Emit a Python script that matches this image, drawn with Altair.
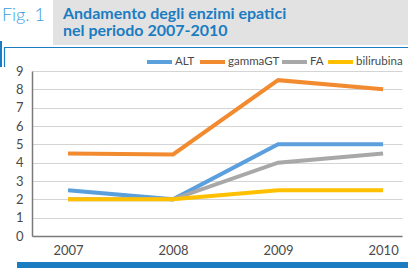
import altair as alt
import pandas as pd

# Series values per year
years = [2007, 2008, 2009, 2010]
series_names = ["ALT", "gammaGT", "FA", "bilirubina"]
alt_vals = [2.5, 2.0, 5.0, 5.0]
ggt_vals = [4.5, 4.45, 8.5, 8.0]
fa_vals = [2.0, 2.0, 4.0, 4.5]
bili_vals = [2.0, 2.0, 2.5, 2.5]
series_colors = ["#5b9fdc", "#f28a30", "#a8a8a8", "#ffc000"]
y_ticks = list(range(0, 10))

fig_label = "Fig. 1"
title_lines = ["Andamento degli enzimi epatici", "nel periodo 2007-2010"]

rows = []
for name, vals in zip(series_names, [alt_vals, ggt_vals, fa_vals, bili_vals]):
    for yr, v in zip(years, vals):
        rows.append({"anno": yr, "serie": name, "valore": v})
df = pd.DataFrame(rows)

# Plot area geometry (page pixels)
PL, PT, PW, PH = 32, 71, 370, 165
W, H = 408, 268
FONT = "Lato"
BLUE = "#1b7cc2"
TEXT = "#4a4a4a"


def px(x):
    return x - PL


def py(y):
    return y - PT


one = alt.Data(values=[{}])
color_scale = alt.Scale(domain=series_names, range=series_colors)

lines = alt.Chart(df).mark_line(strokeWidth=4, clip=False).encode(
    x=alt.X("anno:Q",
            scale=alt.Scale(domain=[2006.657, 2010.18], nice=False, zero=False),
            axis=alt.Axis(values=years, format="d", title=None, grid=False, ticks=False,
                          domainColor="#7a7a7a", domainWidth=1.5, labelPadding=8,
                          labelFontSize=13, labelColor=TEXT, labelFont=FONT)),
    y=alt.Y("valore:Q",
            scale=alt.Scale(domain=[0, 9], nice=False),
            axis=alt.Axis(values=y_ticks, title=None, ticks=False, grid=True,
                          gridColor="#d4d4d4", gridWidth=1, domainColor="#7a7a7a",
                          domainWidth=1.5, labelPadding=9, labelFontSize=13,
                          labelColor=TEXT, labelFont=FONT)),
    color=alt.Color("serie:N", scale=color_scale, legend=None),
)

# Horizontal key above the plot: swatch start for each series (page pixels)
key_x = [147, 200, 282, 328]
key_len = 25
key_y = 62
key_df = pd.DataFrame({
    "serie": series_names,
    "x0": [px(k) for k in key_x],
    "x1": [px(k + key_len) for k in key_x],
    "tx": [px(k + key_len + 3) for k in key_x],
})
key_base = alt.Chart(key_df)
key_lines = key_base.mark_rule(strokeWidth=4, clip=False).encode(
    x=alt.X("x0:Q", scale=None), x2="x1:Q",
    y=alt.value(py(key_y)),
    color=alt.Color("serie:N", scale=color_scale, legend=None),
)
key_text = key_base.mark_text(
    font=FONT, fontSize=11.5, color=TEXT, align="left", baseline="middle", clip=False
).encode(x=alt.X("tx:Q", scale=None), y=alt.value(py(key_y)), text="serie:N")

# Grey header band
header = alt.Chart(one).mark_rect(color="#e2e2e2", clip=False).encode(
    x=alt.value(px(53)), x2=alt.value(px(W + 2)),
    y=alt.value(py(0)), y2=alt.value(py(45)))

# Thin blue frame around the chart panel
frame_top = alt.Chart(one).mark_rule(color=BLUE, strokeWidth=1.2, clip=False).encode(
    x=alt.value(px(4)), x2=alt.value(px(W + 2)),
    y=alt.value(py(47.5)), y2=alt.value(py(47.5)))
frame_left = alt.Chart(one).mark_rule(color=BLUE, strokeWidth=1.2, clip=False).encode(
    x=alt.value(px(4.5)), x2=alt.value(px(4.5)),
    y=alt.value(py(47.5)), y2=alt.value(py(67)))
bracket = alt.Chart(one).mark_rect(color=BLUE, clip=False).encode(
    x=alt.value(px(0)), x2=alt.value(px(2)),
    y=alt.value(py(41)), y2=alt.value(py(67)))

# Blue bar along the bottom
bottom_bar = alt.Chart(one).mark_rect(color=BLUE, clip=False).encode(
    x=alt.value(px(17)), x2=alt.value(px(W + 2)),
    y=alt.value(py(262)), y2=alt.value(py(H + 2)))

fig_text = alt.Chart(one).mark_text(
    text=fig_label, font=FONT, fontSize=18, fontWeight=300, color="#3c9ddc",
    align="left", baseline="alphabetic", clip=False
).encode(x=alt.value(px(2)), y=alt.value(py(21)))

title1 = alt.Chart(one).mark_text(
    text=title_lines[0], font=FONT, fontSize=16, fontWeight="bold", color=BLUE,
    align="left", baseline="alphabetic", clip=False
).encode(x=alt.value(px(63)), y=alt.value(py(19)))
title2 = alt.Chart(one).mark_text(
    text=title_lines[1], font=FONT, fontSize=16, fontWeight="bold", color=BLUE,
    align="left", baseline="alphabetic", clip=False
).encode(x=alt.value(px(63)), y=alt.value(py(36)))

chart = alt.layer(
    header, frame_top, frame_left, bracket, bottom_bar, fig_text, title1, title2,
    lines, key_lines, key_text
).properties(
    width=PW, height=PH,
    padding={"left": PL, "top": PT, "right": W - PL - PW, "bottom": H - PT - PH},
    autosize=alt.AutoSizeParams(type="none"),
    background="white",
).configure_view(stroke=None)

chart.save("out.html", embed_options={"renderer": "svg", "actions": False})
